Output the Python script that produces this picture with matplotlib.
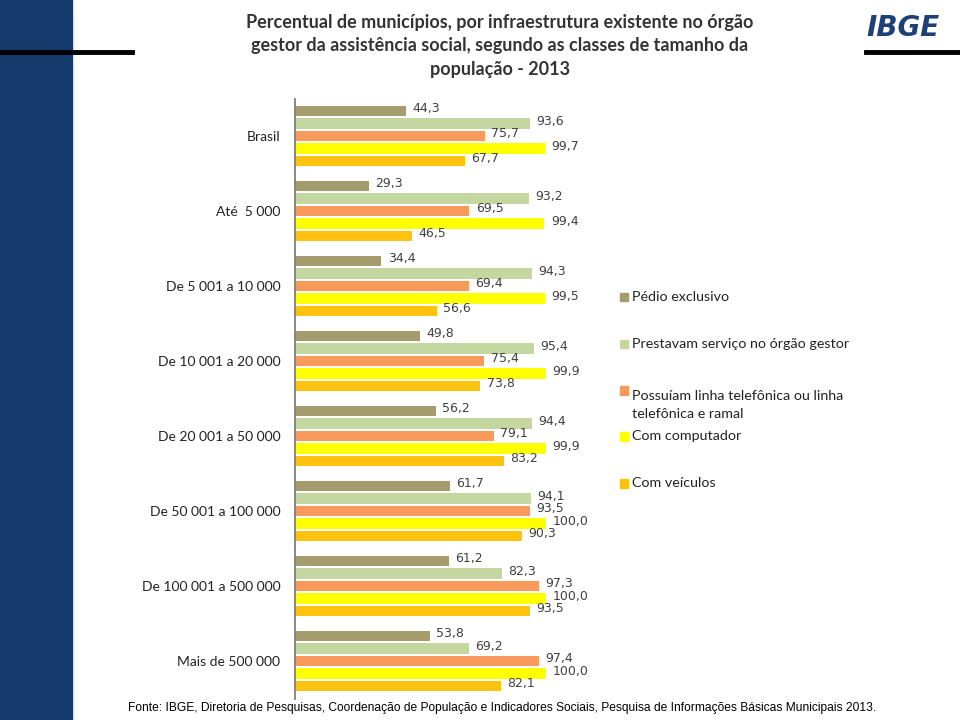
import numpy as np
import matplotlib.pyplot as plt
from matplotlib.patches import Rectangle

categorias = ["Brasil", "Até  5 000", "De 5 001 a 10 000", "De 10 001 a 20 000",
              "De 20 001 a 50 000", "De 50 001 a 100 000", "De 100 001 a 500 000",
              "Mais de 500 000"]
series = ["Pédio exclusivo", "Prestavam serviço no órgão gestor",
          "Possuíam linha telefônica ou linha\ntelefônica e ramal",
          "Com computador", "Com veículos"]
predio = [44.3, 29.3, 34.4, 49.8, 56.2, 61.7, 61.2, 53.8]
prestavam = [93.6, 93.2, 94.3, 95.4, 94.4, 94.1, 82.3, 69.2]
telefone = [75.7, 69.5, 69.4, 75.4, 79.1, 93.5, 97.3, 97.4]
computador = [99.7, 99.4, 99.5, 99.9, 99.9, 100.0, 100.0, 100.0]
veiculos = [67.7, 46.5, 56.6, 73.8, 83.2, 90.3, 93.5, 82.1]
valores = [predio, prestavam, telefone, computador, veiculos]
cores = ["#A59C6E", "#C4D7A0", "#F79A5C", "#FFFF00", "#FFC20E"]

fig = plt.figure(figsize=(9.6, 7.2), dpi=100)
W, H = 960, 720

# faixa azul e linhas pretas
fig.patches.append(Rectangle((0, 0), 72 / W, 1, transform=fig.transFigure,
                             color="#143B6C", zorder=0))
fig.add_artist(plt.Line2D([0, 132 / W], [1 - 52 / H] * 2, color="black", lw=3.5))
fig.add_artist(plt.Line2D([866 / W, 1], [1 - 52 / H] * 2, color="black", lw=3.5))
fig.text(940 / W, 1 - 28 / H, "IBGE", ha="right", va="center", fontsize=20,
         fontweight="bold", fontstyle="italic", color="#1E3F78", family="DejaVu Sans")

fig.text(500 / W, 1 - 46 / H,
         "Percentual de municípios, por infraestrutura existente no órgão\n"
         "gestor da assistência social, segundo as classes de tamanho da\n"
         "população - 2013",
         ha="center", va="center", fontsize=13, fontweight="bold", color="#333333",
         family="Lato", linespacing=1.45)

ax = fig.add_axes([295 / W, 1 - 698.5 / H, 251 / W, 600 / H])
y = np.arange(len(categorias))
passo = 12.5 / 75
for i, (vals, cor) in enumerate(zip(valores, cores)):
    pos = y + (i - 2) * passo
    ax.barh(pos, vals, height=10.5 / 75, color=cor, zorder=2)
    for p, v in zip(pos, vals):
        ax.text(v + 2.5, p - 0.03, f"{v:.1f}".replace(".", ","), va="center", ha="left",
                fontsize=9, color="#404040", clip_on=False)

ax.set_xlim(0, 100)
ax.set_ylim(len(categorias) - 0.5, -0.5)
ax.set_yticks(y)
ax.set_yticklabels(categorias, fontsize=10, color="#222222", family="Lato")
ax.tick_params(axis="y", length=0, pad=10.5)
ax.set_xticks([])
for s in ["top", "right", "bottom"]:
    ax.spines[s].set_visible(False)
ax.spines["left"].set_color("#7F7F7F")
ax.spines["left"].set_linewidth(1.3)
ax.patch.set_alpha(0)

# legenda
leg_y = [297, 344, 390, 436, 483]
for nome, cor, ly in zip(series, cores, leg_y):
    fig.patches.append(Rectangle((620 / W, 1 - (ly + 4.5) / H), 8 / W, 9 / H,
                                 transform=fig.transFigure, color=cor))
    fig.text(632 / W, 1 - ly / H, nome, ha="left", va="top" if "\n" in nome else "center",
             fontsize=10.3, color="#222222", family="Lato", linespacing=1.6)

fig.text(128 / W, 1 - 708 / H,
         "Fonte: IBGE, Diretoria de Pesquisas, Coordenação de População e Indicadores Sociais, "
         "Pesquisa de Informações Básicas Municipais 2013.",
         ha="left", va="center", fontsize=8.65, color="black", family="Liberation Sans")

fig.savefig("out.png", dpi=100)
